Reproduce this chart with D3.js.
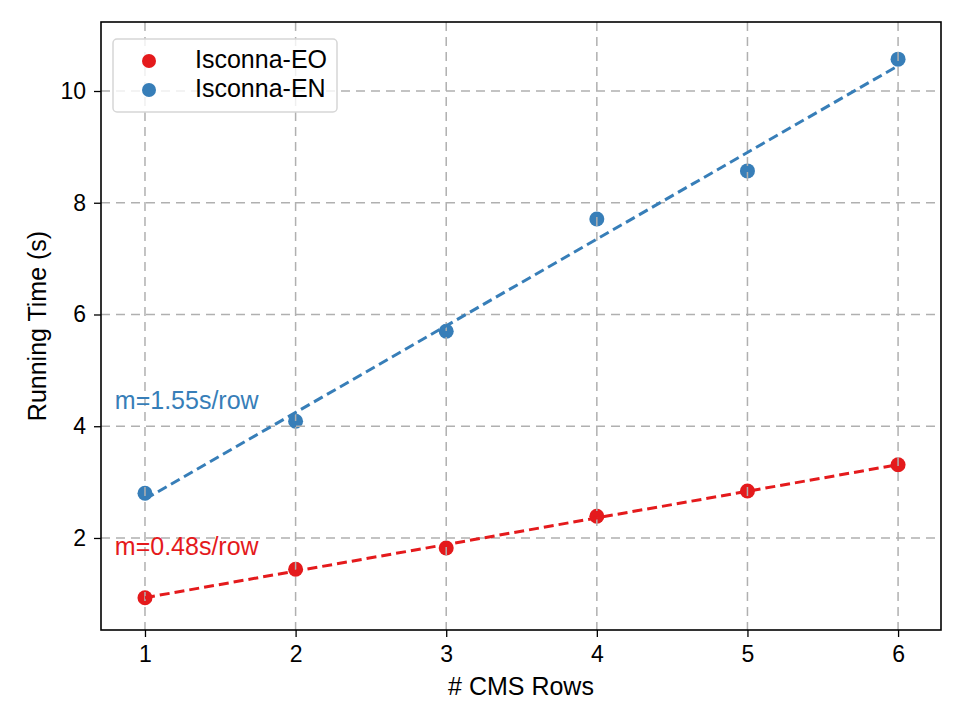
<!DOCTYPE html>
<html><head><meta charset="utf-8">
<script src="https://cdn.jsdelivr.net/npm/d3@7"></script>
<style>body{margin:0;background:#fff}svg{font-family:"Liberation Sans",Arial,sans-serif}</style>
</head><body><svg id="c" width="968" height="726"></svg>
<script>
const rows = [1, 2, 3, 4, 5, 6];
const eoTimes = [0.93, 1.44, 1.82, 2.39, 2.84, 3.31];
const enTimes = [2.80, 4.09, 5.70, 7.71, 8.57, 10.57];
const xTicks = [1, 2, 3, 4, 5, 6];
const yTicks = [2, 4, 6, 8, 10];
const seriesNames = ["Isconna-EO", "Isconna-EN"];
const colors = ["#e41a1c", "#377eb8"];

const svg = d3.select("#c");
const L = 101, R = 941, T = 22, B = 630;
const x = d3.scaleLinear().domain([0.708, 6.285]).range([L, R]);
const y = d3.scaleLinear().domain([0.353, 11.235]).range([B, T]);

function fit(xs, ys) {
  const mx = d3.mean(xs), my = d3.mean(ys);
  const m = d3.sum(xs, (v, i) => (v - mx) * (ys[i] - my)) / d3.sum(xs, v => (v - mx) ** 2);
  return {m, b: my - m * mx};
}
const series = [eoTimes, enTimes].map((ys, i) => ({name: seriesNames[i], color: colors[i], ys, f: fit(rows, ys)}));

// points
series.forEach(s => {
  svg.append("g").selectAll("circle").data(rows).join("circle")
    .attr("cx", d => x(d)).attr("cy", (d, i) => y(s.ys[i])).attr("r", 7.5).attr("fill", s.color);
});

// grid
const grid = svg.append("g").attr("stroke", "#b0b0b0").attr("stroke-width", 1.5).attr("stroke-dasharray", "9,6");
grid.selectAll(".gx").data(xTicks).join("line").attr("x1", d => x(d)).attr("x2", d => x(d)).attr("y1", T).attr("y2", B);
grid.selectAll(".gy").data(yTicks).join("line").attr("y1", d => y(d)).attr("y2", d => y(d)).attr("x1", L).attr("x2", R);

// fit lines
series.forEach(s => {
  svg.append("path")
    .attr("d", d3.line()([[x(1), y(s.f.m * 1 + s.f.b)], [x(6), y(s.f.m * 6 + s.f.b)]]))
    .attr("stroke", s.color).attr("stroke-width", 3).attr("stroke-dasharray", "10,5").attr("fill", "none");
});

// annotations
const annY = [1.70, 4.30];
series.forEach((s, i) => {
  svg.append("text").attr("x", x(0.8)).attr("y", y(annY[i])).attr("fill", s.color)
    .attr("font-size", 25).text("m=" + s.f.m.toFixed(2) + "s/row");
});

// axes
const xa = svg.append("g").attr("transform", `translate(0,${B})`)
  .call(d3.axisBottom(x).tickValues(xTicks).tickFormat(d3.format("d")).tickSize(7).tickPadding(9));
const ya = svg.append("g").attr("transform", `translate(${L},0)`)
  .call(d3.axisLeft(y).tickValues(yTicks).tickFormat(d3.format("d")).tickSize(7).tickPadding(8));
[xa, ya].forEach(a => {
  a.select(".domain").remove();
  a.selectAll("line").attr("stroke", "#000").attr("stroke-width", 1.3);
  a.selectAll("text").attr("font-size", 23).attr("fill", "#000").attr("font-family", "Liberation Sans, Arial, sans-serif");
});
svg.append("rect").attr("x", L).attr("y", T).attr("width", R - L).attr("height", B - T)
  .attr("fill", "none").attr("stroke", "#000").attr("stroke-width", 1.6);

svg.append("text").attr("x", (L + R) / 2).attr("y", 695).attr("text-anchor", "middle").attr("font-size", 25).text("# CMS Rows");
svg.append("text").attr("transform", `translate(46,${(T + B) / 2}) rotate(-90)`).attr("text-anchor", "middle")
  .attr("font-size", 25).text("Running Time (s)");

// legend
const lg = svg.append("g");
lg.append("rect").attr("x", 113).attr("y", 39).attr("width", 224).attr("height", 73).attr("rx", 4)
  .attr("fill", "#fff").attr("fill-opacity", 0.8).attr("stroke", "#d6d6d6").attr("stroke-width", 1.5);
series.forEach((s, i) => {
  lg.append("circle").attr("cx", 149).attr("cy", 61 + i * 29).attr("r", 7).attr("fill", s.color);
  lg.append("text").attr("x", 195).attr("y", 68 + i * 29).attr("font-size", 25).text(s.name);
});
</script></body></html>
